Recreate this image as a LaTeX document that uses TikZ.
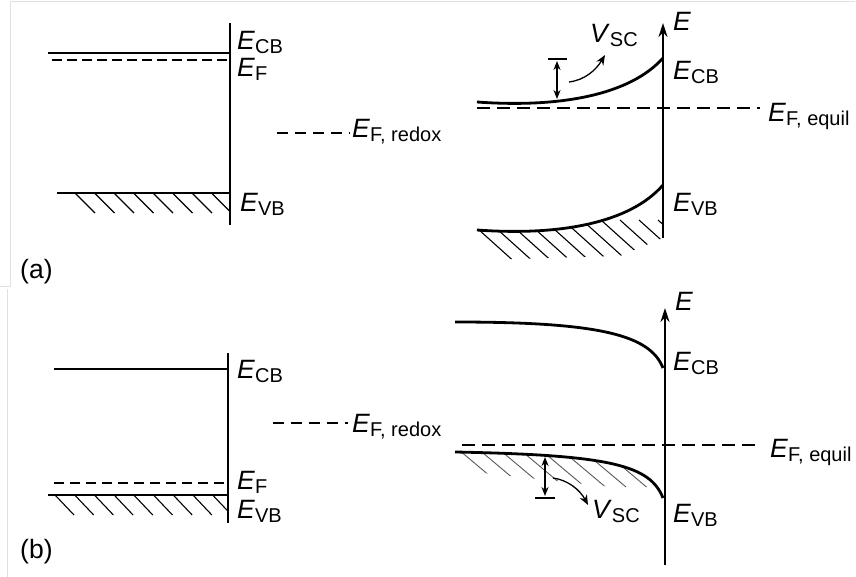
\documentclass[tikz,border=0pt]{standalone}
\usepackage{fontspec}
\setmainfont{Liberation Sans}
\usetikzlibrary{arrows.meta}
\newcommand{\en}[2]{\textit{#1}\raisebox{-4pt}{\fontsize{20}{20}\selectfont #2}}
\tikzset{
  lbl/.style={anchor=base west, inner sep=0pt, font=\fontsize{26.5}{28}\selectfont},
  level/.style={line width=1.8pt},
  band/.style={line width=2.8pt},
  axisline/.style={line width=1.8pt},
  yaxis/.style={line width=1.8pt, -{Stealth[length=14pt,width=9pt]}},
  hatchline/.style={line width=1.1pt},
  lighthatch/.style={line width=0.9pt, black!65},
  thickdash/.style={line width=2.4pt, dash pattern=on 10pt off 5pt},
  thindash/.style={line width=1.5pt, dash pattern=on 10pt off 6pt},
  rdxdash/.style={line width=1.3pt, dash pattern=on 11pt off 7pt},
  eqdash/.style={line width=1.4pt, dash pattern=on 13pt off 7pt},
  dblarrow/.style={line width=1.6pt, {Stealth[length=9pt,width=7pt]}-{Stealth[length=9pt,width=7pt]}},
  bar/.style={line width=1.6pt},
  bendarrow/.style={line width=1.3pt, -{Stealth[length=10pt,width=8pt]}},
  frame/.style={line width=1pt, black!12}
}
\begin{document}
\begin{tikzpicture}[x=1pt,y=-1pt]
\useasboundingbox (0,0) rectangle (856,577);
% screenshot frame lines
\draw[frame] (10,2) -- (855,2);
\draw[frame] (10,2) -- (10,286) -- (0,286);
\draw[frame] (7,289) -- (7,577);

% ================= (a) left =================
\coordinate (aL1) at (230,23);
\coordinate (aL2) at (230,225);
\draw[axisline] (aL1) -- (aL2);
\draw[level] (48,53) -- (230,53);
\draw[thickdash] (52,60) -- (230,60);
\draw[level] (57,193) -- (230,193);
\begin{scope}
  \clip (0,0) rectangle (230,577);
  \foreach \k in {0,...,7} \draw[hatchline] ({75+19.5*\k},193) -- ({95+19.5*\k},213);
\end{scope}
\node[lbl] (ecbAL) at (237,50) {\en{E}{CB}};
\node[lbl] (efAL) at (237,77) {\en{E}{F}};
\node[lbl] (evbAL) at (240,212) {\en{E}{VB}};
\node[lbl] (labA) at (20,278) {(a)};

% redox (a)
\coordinate (rdA1) at (277,133);
\coordinate (rdA2) at (350,133);
\draw[rdxdash] (rdA1) -- (rdA2);
\node[lbl] (redA) at (352,138) {\en{E}{F, redox}};

% ================= (a) right =================
\coordinate (aR0) at (663,238);
\coordinate (aRtip) at (663,23);
\draw[yaxis] (aR0) -- (aRtip);
\node[lbl] (eA) at (673,31) {\textit{E}};
\draw[band] (477,102) .. controls (560,108) and (630,95) .. (663,58);
\draw[eqdash] (477,108) -- (760,108);
\draw[band] (477,230) .. controls (560,236) and (630,223) .. (663,185);
\begin{scope}
  \clip (477,230) .. controls (560,236) and (630,223) .. (663,185) -- (663,238) -- (620,256) -- (477,260) -- cycle;
  \foreach \k in {0,...,11} \draw[hatchline] ({468+19*\k},220) -- ({518+19*\k},265);
\end{scope}
% V_SC (a)
\draw[bar] (548,59) -- (567,59);
\draw[dblarrow] (557,61) -- (557,99);
\draw[bendarrow] (569,82) .. controls (585,80) and (596,70) .. (605,55);
\node[lbl] (vA) at (590,43) {\en{V}{SC}};
\node[lbl] (ecbAR) at (673,80) {\en{E}{CB}};
\node[lbl] (eqA) at (768,122) {\en{E}{F, equil}};
\node[lbl] (evbAR) at (673,212) {\en{E}{VB}};

% ================= (b) left =================
\coordinate (bL1) at (228,353);
\coordinate (bL2) at (228,523);
\draw[axisline] (bL1) -- (bL2);
\draw[level] (54,369) -- (228,369);
\draw[thindash] (54,483) -- (228,483);
\draw[level] (48,495) -- (228,495);
\begin{scope}
  \clip (0,290) rectangle (228,577);
  \foreach \k in {0,...,8} \draw[hatchline] ({55+19.7*\k},495) -- ({74+19.7*\k},515);
\end{scope}
\node[lbl] (ecbBL) at (237,378) {\en{E}{CB}};
\node[lbl] (efBL) at (237,489) {\en{E}{F}};
\node[lbl] (evbBL) at (237,518) {\en{E}{VB}};
\node[lbl] (labB) at (20,558) {(b)};

% redox (b)
\coordinate (rdB1) at (273,423);
\coordinate (rdB2) at (348,423);
\draw[rdxdash] (rdB1) -- (rdB2);
\node[lbl] (redB) at (352,432) {\en{E}{F, redox}};

% ================= (b) right =================
\coordinate (bR0) at (665,565);
\coordinate (bRtip) at (665,308);
\draw[yaxis] (bR0) -- (bRtip);
\node[lbl] (eB) at (675,310) {\textit{E}};
\draw[band] (455,322) .. controls (600,322) and (650,335) .. (663,368);
\draw[eqdash] (462,445) -- (760,445);
\begin{scope}
  \clip (455,452) .. controls (610,455) and (650,465) .. (663,498) -- (640,490) -- (455,470) -- cycle;
  \foreach \k in {0,...,9} \draw[lighthatch] ({453+20.5*\k},445) -- ({503+20.5*\k},487);
\end{scope}
\draw[band] (455,452) .. controls (610,455) and (650,465) .. (663,498);
% V_SC (b)
\draw[dblarrow] (545,457) -- (545,496);
\draw[bar] (535,498) -- (555,498);
\draw[bendarrow] (553,478) .. controls (568,480) and (580,490) .. (588,505);
\node[lbl] (vB) at (592,518) {\en{V}{SC}};
\node[lbl] (ecbBR) at (673,370) {\en{E}{CB}};
\node[lbl] (eqB) at (770,457) {\en{E}{F, equil}};
\node[lbl] (evbBR) at (673,522) {\en{E}{VB}};
\end{tikzpicture}
\end{document}
